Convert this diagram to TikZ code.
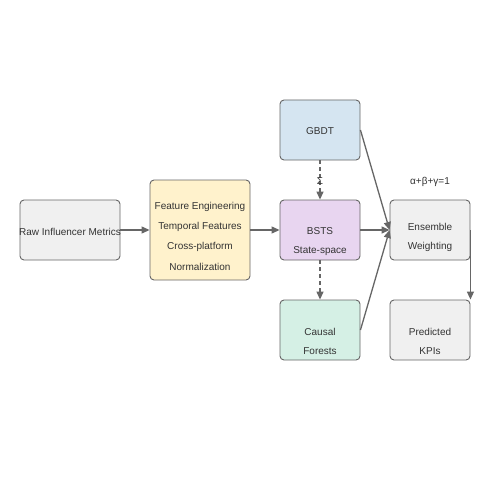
\documentclass[tikz,border=0pt]{standalone}
\usepackage{fontspec}
\setmainfont{Liberation Sans}
\usetikzlibrary{arrows.meta}
\definecolor{edge}{HTML}{666666}
\definecolor{txt}{HTML}{333333}
\definecolor{grayfill}{HTML}{F0F0F0}
\definecolor{yellowfill}{HTML}{FFF2CC}
\definecolor{bluefill}{HTML}{D5E5F1}
\definecolor{purplefill}{HTML}{E8D5F0}
\definecolor{greenfill}{HTML}{D5F0E5}
\tikzset{
  box/.style={draw=edge, line width=0.9pt, rounded corners=4pt, minimum width=100pt, minimum height=60pt, inner sep=0pt, text=txt, font=\fontsize{10}{20}\selectfont, align=center},
  smallbox/.style={box, minimum width=80pt},
  conn/.style={draw=edge, line width=1.3pt, -{Triangle[length=8pt,width=7pt]}},
  dconn/.style={conn, dashed, dash pattern=on 4pt off 3pt},
  lbl/.style={text=txt, font=\fontsize{10}{12}\selectfont, inner sep=0pt}
}
\begin{document}
\begin{tikzpicture}[x=1pt,y=-1pt]
\useasboundingbox (0,0) rectangle (500,500);
\fill[white] (0,0) rectangle (500,500);
\node[box, fill=grayfill] (raw) at (70,230) {};
\node[lbl] (rawt) at (70,231.5) {Raw Influencer Metrics};
\node[box, fill=yellowfill, minimum height=100pt] (feat) at (200,230) {};
\node[lbl] at (200,206.5) {Feature Engineering};
\node[lbl] at (200,226.5) {Temporal Features};
\node[lbl] at (200,246.5) {Cross-platform};
\node[lbl] at (200,266.5) {Normalization};
\node[smallbox, fill=bluefill] (gbdt) at (320,130) {};
\node[lbl] at (320,131.5) {GBDT};
\node[smallbox, fill=purplefill] (bsts) at (320,230) {};
\node[lbl] at (320,231.5) {BSTS};
\node[lbl] at (320,251.5) {State-space};
\node[smallbox, fill=greenfill] (cf) at (320,330) {};
\node[lbl] at (320,331.5) {Causal};
\node[lbl] at (320,351.5) {Forests};
\node[smallbox, fill=grayfill] (ens) at (430,230) {};
\node[lbl] at (430,226.5) {Ensemble};
\node[lbl] at (430,246.5) {Weighting};
\node[smallbox, fill=grayfill] (pred) at (430,330) {};
\node[lbl] at (430,331.5) {Predicted};
\node[lbl] at (430,351.5) {KPIs};
\node[lbl] (w) at (430,181.5) {α+β+γ=1};

\draw[conn] (raw.east) -- (feat.west);
\draw[conn] (feat.east) -- (bsts.west);
\draw[conn] (gbdt.east) -- (ens.west);
\draw[conn] (bsts.east) -- (ens.west);
\draw[conn] (cf.east) -- (ens.west);
\draw[conn] (ens.east) -- (pred.north east);
\draw[dconn] (gbdt.south) -- node[lbl, pos=0.5, yshift=-1pt]{Σ} (bsts.north);
\draw[dconn] (bsts.south) -- (cf.north);
\end{tikzpicture}
\end{document}
